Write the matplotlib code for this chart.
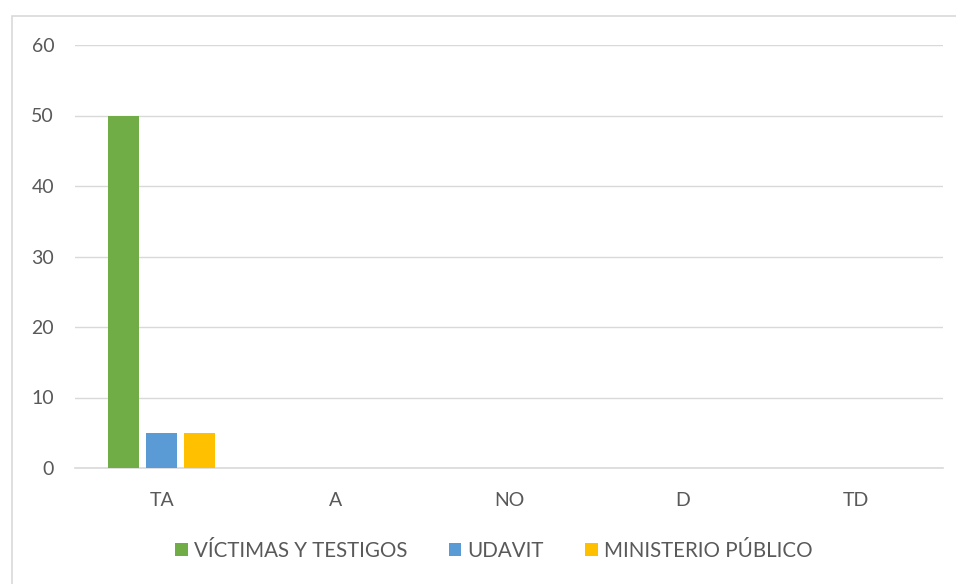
import matplotlib
matplotlib.use("Agg")
import matplotlib.pyplot as plt
import numpy as np
from matplotlib.patches import Rectangle

categories = ["TA", "A", "NO", "D", "TD"]
series_names = ["VÍCTIMAS Y TESTIGOS", "UDAVIT", "MINISTERIO PÚBLICO"]
victimas = [50, 0, 0, 0, 0]
udavit = [5, 0, 0, 0, 0]
ministerio = [5, 0, 0, 0, 0]
colors = ["#70AD47", "#5B9BD5", "#FFC000"]

plt.rcParams['font.family'] = ['Lato', 'DejaVu Sans']

fig = plt.figure(figsize=(9.56, 5.84), dpi=100)
ax = fig.add_axes([75/956, 1-468/584, (943-75)/956, (468-45)/584])

x = np.arange(len(categories))
w = 0.178
off = 0.219
for i, (vals, name, c) in enumerate(zip([victimas, udavit, ministerio], series_names, colors)):
    ax.bar(x + (i-1)*off, vals, width=w, color=c, label=name, zorder=3)

ax.set_xlim(-0.5, 4.5)
ax.set_ylim(0, 60)
ax.set_yticks(range(0, 61, 10))
ax.set_xticks(x)
ax.set_xticklabels(categories)
ax.grid(axis='y', color='#D9D9D9', linewidth=1, zorder=0)
for s in ['top', 'right', 'left']:
    ax.spines[s].set_visible(False)
ax.spines['bottom'].set_color('#D9D9D9')
ax.spines['bottom'].set_linewidth(1.2)
ax.tick_params(axis='both', length=0, labelsize=14, colors='#595959')
ax.tick_params(axis='y', pad=15)
ax.tick_params(axis='x', pad=17)

leg = fig.legend(loc='center', bbox_to_anchor=(494/956, 1-551/584), ncol=3, frameon=False,
                 fontsize=14.8, handlelength=0.62, handleheight=0.62, handletextpad=0.3,
                 columnspacing=2.0)
for t in leg.get_texts():
    t.set_color('#595959')

fig.patches.append(Rectangle((12/956, -0.1), 1.2, 1-16/584+0.1, transform=fig.transFigure,
                             fill=False, edgecolor='#D9D9D9', linewidth=1.2, zorder=0))

fig.savefig("out.png", dpi=100)
